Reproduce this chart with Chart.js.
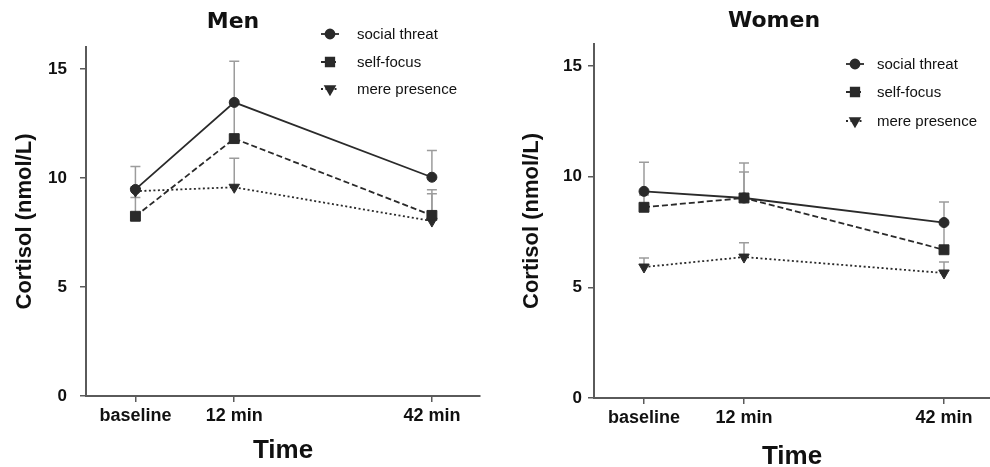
<!DOCTYPE html>
<html><head><meta charset="utf-8">
<script src="https://cdn.jsdelivr.net/npm/chart.js@4.4.1/dist/chart.umd.min.js"></script>
<style>
html,body{margin:0;padding:0;background:#fff;}
#wrap{position:relative;width:990px;height:467px;overflow:hidden;}
.panel{position:absolute;top:0;width:495px;height:467px;}
</style></head><body>
<div id="wrap">
<div class="panel" style="left:0"><canvas id="men"></canvas></div>
<div class="panel" style="left:495px"><canvas id="women"></canvas></div>
</div>
<script>
// ---- data ----
const timeLabels = ['baseline', '12 min', '42 min'];
const timePoints = [-3, 12, 42];
const yTicks = [0, 5, 10, 15];
const seriesNames = ['social threat', 'self-focus', 'mere presence'];
const panelTitles = ['Men', 'Women'];

const menSocial = [9.47, 13.46, 10.03];
const menSocialSE = [1.05, 1.89, 1.23];
const menSelf = [8.24, 11.80, 8.28];
const menSelfSE = [0.86, 1.60, 1.17];
const menMere = [9.39, 9.57, 8.02];
const menMereSE = [0.20, 1.33, 1.25];

const womenSocial = [9.34, 9.04, 7.93];
const womenSocialSE = [1.32, 1.58, 0.93];
const womenSelf = [8.62, 9.04, 6.70];
const womenSelfSE = [0.55, 1.17, 1.15];
const womenMere = [5.92, 6.37, 5.65];
const womenMereSE = [0.41, 0.65, 0.50];

// ---- styling ----
const SANS = "'Liberation Sans', Arial, sans-serif";
const TITLE_FONT = "'DejaVu Sans', sans-serif";
const INK = '#2a2a2a';
const AXIS = '#5a5a5a';
const styles = [
  {pointStyle: 'circle', pointRadius: 5, rotation: 0, dash: [], legendR: 4.5},
  {pointStyle: 'rect', pointRadius: 7, rotation: 0, dash: [6, 3], legendR: 6},
  {pointStyle: 'triangle', pointRadius: 6, rotation: 180, dash: [2, 2.5], legendR: 5.5}
];

function makeDatasets(vals, ses) {
  return vals.map((arr, k) => ({
    label: seriesNames[k],
    data: arr.map((v, i) => ({x: timePoints[i], y: v})),
    se: ses[k],
    showLine: true,
    borderColor: INK,
    backgroundColor: INK,
    borderWidth: 1.8,
    borderDash: styles[k].dash,
    pointStyle: styles[k].pointStyle,
    pointRadius: styles[k].pointRadius,
    pointRotation: styles[k].rotation,
    pointBorderWidth: 1,
    pointBorderColor: INK,
    pointBackgroundColor: INK,
    tension: 0
  }));
}

const extras = {
  id: 'extras',
  beforeDatasetsDraw(chart) {
    const ctx = chart.ctx, xs = chart.scales.x, ys = chart.scales.y;
    ctx.save();
    ctx.strokeStyle = '#9c9c9c';
    ctx.lineWidth = 1.5;
    chart.data.datasets.forEach(ds => {
      ds.data.forEach((p, i) => {
        const x = xs.getPixelForValue(p.x);
        const y0 = ys.getPixelForValue(p.y);
        const y1 = ys.getPixelForValue(p.y + ds.se[i]);
        ctx.beginPath();
        ctx.moveTo(x, y0); ctx.lineTo(x, y1);
        ctx.moveTo(x - 5, y1); ctx.lineTo(x + 5, y1);
        ctx.stroke();
      });
    });
    ctx.restore();
  },
  afterDraw(chart, args, o) {
    const ctx = chart.ctx;
    ctx.save();
    // title
    ctx.fillStyle = '#111';
    ctx.font = 'bold 22px ' + TITLE_FONT;
    ctx.textAlign = 'center';
    ctx.textBaseline = 'alphabetic';
    ctx.fillText(o.title, o.titleX, o.titleY);
    // legend
    ctx.font = '15px ' + SANS;
    ctx.textAlign = 'left';
    ctx.textBaseline = 'middle';
    chart.data.datasets.forEach((ds, k) => {
      const y = o.legendRows[k];
      ctx.strokeStyle = INK;
      ctx.lineWidth = 1.8;
      ctx.setLineDash(styles[k].dash);
      ctx.beginPath();
      ctx.moveTo(o.legendX - 9, y); ctx.lineTo(o.legendX + 9, y);
      ctx.stroke();
      ctx.setLineDash([]);
      ctx.fillStyle = INK;
      Chart.helpers.drawPoint(ctx, {pointStyle: styles[k].pointStyle, radius: styles[k].legendR, rotation: styles[k].rotation, borderWidth: 1}, o.legendX, y);
      ctx.fillStyle = '#111';
      ctx.fillText(ds.label, o.textX, y + 1);
    });
    ctx.restore();
  }
};

function makeChart(id, datasets, cfg) {
  return new Chart(document.getElementById(id), {
    type: 'line',
    data: {datasets},
    options: {
      responsive: true,
      maintainAspectRatio: false,
      animation: false,
      layout: {autoPadding: false, padding: {top: cfg.padTop, right: cfg.padRight, left: 0, bottom: 0}},
      plugins: {
        legend: {display: false},
        tooltip: {enabled: false},
        extras: cfg.extras
      },
      scales: {
        x: {
          type: 'linear',
          min: cfg.xMin, max: cfg.xMax,
          afterBuildTicks: s => { s.ticks = timePoints.map(v => ({value: v})); },
          afterFit: s => { s.height = cfg.xHeight; s.paddingLeft = 0; s.paddingRight = 0; },
          ticks: {
            callback: v => timeLabels[timePoints.indexOf(v)],
            font: {family: SANS, size: 18, weight: 'bold'},
            color: '#111', padding: 3, maxRotation: 0, autoSkip: false
          },
          grid: {drawOnChartArea: false, drawTicks: true, tickLength: 6, color: AXIS, lineWidth: 1.5},
          border: {display: true, color: AXIS, width: 2},
          title: {display: true, text: 'Time', color: '#111',
            font: {family: SANS, size: 26, weight: 'bold', lineHeight: cfg.timeLH},
            padding: {top: 0, bottom: cfg.timePad}}
        },
        y: {
          min: 0, max: 16,
          afterBuildTicks: s => { s.ticks = yTicks.map(v => ({value: v})); },
          afterFit: s => { s.width = cfg.yWidth; },
          ticks: {font: {family: SANS, size: 17, weight: 'bold'}, color: '#111', padding: cfg.yTickPad},
          grid: {drawOnChartArea: false, drawTicks: true, tickLength: 6, color: AXIS, lineWidth: 1.5},
          border: {display: true, color: AXIS, width: 2},
          title: {display: true, text: 'Cortisol (nmol/L)', color: '#111',
            font: {family: SANS, size: 22, weight: 'bold'},
            padding: {top: cfg.yTitlePad, bottom: 0}}
        }
      }
    },
    plugins: [extras]
  });
}

makeChart('men', makeDatasets([menSocial, menSelf, menMere], [menSocialSE, menSelfSE, menMereSE]), {
  padTop: 47, padRight: 15, xMin: -10.5, xMax: 49.3, xHeight: 71, yWidth: 86,
  yTickPad: 13, yTitlePad: 12, timePad: 1, timeLH: 1.2,
  extras: {title: panelTitles[0], titleX: 233, titleY: 28, legendX: 330, textX: 357, legendRows: [34, 62, 89]}
});
makeChart('women', makeDatasets([womenSocial, womenSelf, womenMere], [womenSocialSE, womenSelfSE, womenMereSE]), {
  padTop: 44, padRight: 0, xMin: -10.5, xMax: 48.9, xHeight: 69, yWidth: 99,
  yTickPad: 6, yTitlePad: 24, timePad: 0, timeLH: 0.75,
  extras: {title: panelTitles[1], titleX: 279, titleY: 27, legendX: 360, textX: 382, legendRows: [64, 92, 121]}
});
</script>
</body></html>
